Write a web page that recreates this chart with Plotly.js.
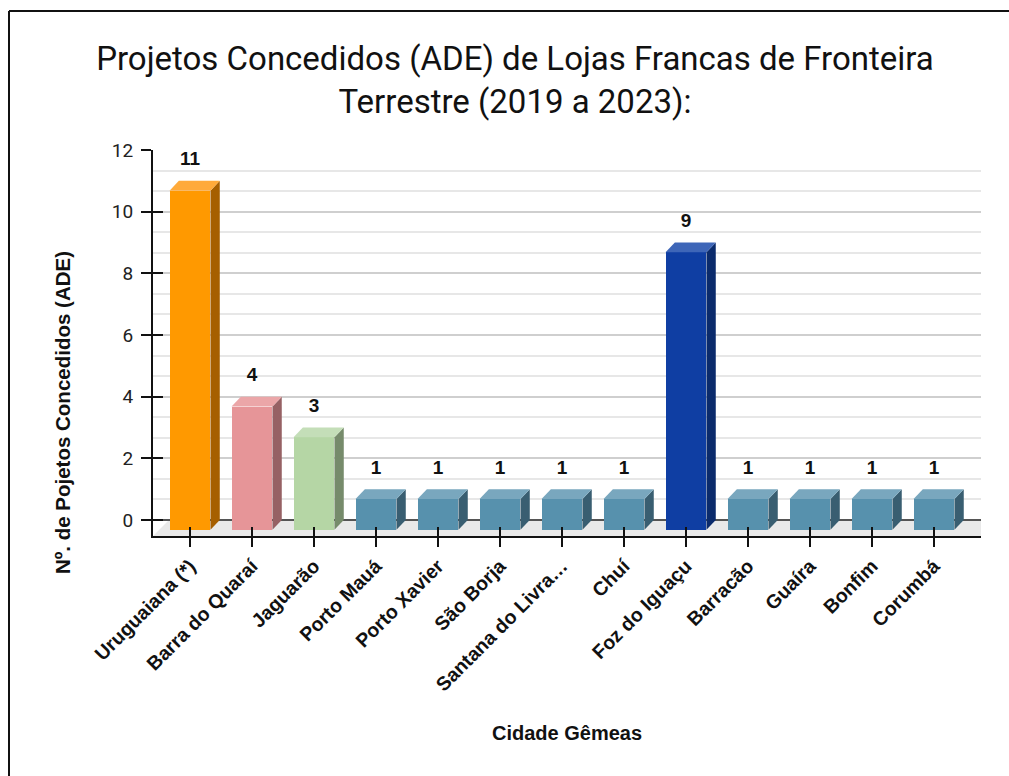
<!DOCTYPE html>
<html><head><meta charset="utf-8">
<script src="https://cdn.plot.ly/plotly-3.0.1.min.js"></script>
<style>html,body{margin:0;padding:0;background:#fff}#chart{width:1009px;height:776px}</style>
</head><body><div id="chart"></div>
<script>
// ---- data ----
const categories = ["Uruguaiana (*)", "Barra do Quaraí", "Jaguarão", "Porto Mauá", "Porto Xavier", "São Borja",
  "Santana do Livra…", "Chuí", "Foz do Iguaçu", "Barracão", "Guaíra", "Bonfim", "Corumbá"];
const projetos = [11, 4, 3, 1, 1, 1, 1, 1, 9, 1, 1, 1, 1];
const yTickVals = [0, 2, 4, 6, 8, 10, 12];
const chartTitle = "Projetos Concedidos (ADE) de Lojas Francas de Fronteira<br>Terrestre (2019 a 2023):";
const xTitle = "Cidade Gêmeas";
const yTitle = "Nº. de Pojetos Concedidos (ADE)";

// ---- styles ----
const colourKey = ["orange", "pink", "green", "teal", "teal", "teal", "teal", "teal", "blue", "teal", "teal", "teal", "teal"];
const palette = {
  orange: {front: "#FF9900", top: "#FFAA3A", side: "#A65F00"},
  pink:   {front: "#E69598", top: "#EBA6A8", side: "#966164"},
  green:  {front: "#B5D6A5", top: "#C4DEB8", side: "#768B6B"},
  teal:   {front: "#5791AD", top: "#79A7BE", side: "#395E71"},
  blue:   {front: "#0F3EA3", top: "#3E66B8", side: "#0B2B6C"}
};
const BW = 0.66;   // bar width (category units)
const DX = 0.15;   // depth offset x (category units)
const DY = 0.32;   // depth offset y (value units)
const FONT = "Liberation Sans, Arial, sans-serif";
const TITLEFONT = "Roboto, sans-serif";

const idx = categories.map((c, i) => i);
const traces = [];

// front faces
traces.push({
  type: "bar", x: idx, y: projetos, base: -DY, width: BW,
  marker: {color: colourKey.map(k => palette[k].front), line: {width: 0}},
  hoverinfo: "skip", showlegend: false
});

// side and top faces
projetos.forEach((v, i) => {
  const p = palette[colourKey[i]];
  const r = i + BW / 2, l = i - BW / 2;
  traces.push({
    type: "scatter", mode: "lines", fill: "toself", fillcolor: p.side, line: {width: 0},
    x: [r, r + DX, r + DX, r, r], y: [-DY, 0, v, v - DY, -DY],
    hoverinfo: "skip", showlegend: false
  });
  traces.push({
    type: "scatter", mode: "lines", fill: "toself", fillcolor: p.top, line: {width: 0},
    x: [l, l + DX, r + DX, r, l], y: [v - DY, v, v, v - DY, v - DY],
    hoverinfo: "skip", showlegend: false
  });
});

// value labels
traces.push({
  type: "scatter", mode: "text", x: idx, y: projetos.map(v => v + 0.66),
  text: projetos.map(String), textposition: "middle center",
  textfont: {family: FONT, size: 19, color: "#111", weight: "bold"},
  cliponaxis: false, hoverinfo: "skip", showlegend: false
});

// dummy trace for the overlay axes (inside tick marks)
traces.push({type: "scatter", mode: "markers", x: [null], y: [null], xaxis: "x2", yaxis: "y2",
  hoverinfo: "skip", showlegend: false});

const XR = [-0.597, 12.758], YR = [-0.52, 12];
const PW = 828, PH = 386, PL = 153, PB = 536;
const px = v => (v - PL) / PW, py = v => (PB - v) / PH;

const layout = {
  width: 1009, height: 776,
  margin: {l: PL, r: 1009 - 981, t: 150, b: 776 - PB},
  paper_bgcolor: "#fff", plot_bgcolor: "#fff",
  showlegend: false, bargap: 0,
  title: {
    text: chartTitle, xref: "container", yref: "container",
    x: 515 / 1009, xanchor: "center", y: 1 - 70 / 776, yanchor: "middle",
    font: {family: TITLEFONT, size: 33, color: "#111"}
  },
  xaxis: {
    range: XR, tickmode: "array", tickvals: idx, ticktext: categories, tickangle: -45,
    showgrid: false, zeroline: false, showline: true, linecolor: "#111", linewidth: 2,
    ticks: "outside", ticklen: 9, tickwidth: 2, tickcolor: "#111",
    tickfont: {family: FONT, size: 19.5, color: "#111", weight: "bold"}, fixedrange: true
  },
  yaxis: {
    range: YR, tickmode: "array", tickvals: yTickVals,
    showgrid: true, gridcolor: "#cfcfcf", gridwidth: 2,
    minor: {dtick: 2 / 3, tick0: 0, showgrid: true, gridcolor: "#e7e7e7", gridwidth: 2, ticks: ""},
    zeroline: true, zerolinecolor: "#555", zerolinewidth: 2,
    showline: true, linecolor: "#111", linewidth: 2,
    ticks: "outside", ticklen: 10, tickwidth: 2, tickcolor: "#111", ticklabelstandoff: 4,
    tickfont: {family: TITLEFONT, size: 19, color: "#222"}, fixedrange: true
  },
  xaxis2: {range: XR, overlaying: "x", anchor: "y2", tickmode: "array", tickvals: idx,
    showticklabels: false, showgrid: false, zeroline: false, showline: false,
    ticks: "inside", ticklen: 9, tickwidth: 2, tickcolor: "#111", fixedrange: true},
  yaxis2: {range: YR, overlaying: "y", anchor: "x2", side: "left", tickmode: "array", tickvals: yTickVals,
    showticklabels: false, showgrid: false, zeroline: false, showline: false,
    ticks: "inside", ticklen: 10, tickwidth: 2, tickcolor: "#111", fixedrange: true},
  shapes: [
    // mask grid between y-axis and back wall
    {type: "rect", xref: "paper", yref: "y", x0: 0, x1: 15 / PW, y0: -0.6, y1: 12.2,
      fillcolor: "#fff", line: {width: 0}, layer: "between"},
    // floor (under the bars)
    {type: "path", xref: "x", yref: "y", layer: "between",
      path: "M -0.597 -0.52 L -0.355 -0.03 L 12.9 -0.03 L 12.758 -0.52 Z",
      fillcolor: "#e9e9e9", line: {width: 0}},
    // outer frame
    {type: "line", xref: "paper", yref: "paper", x0: px(9), x1: px(9), y0: py(11), y1: py(780),
      line: {color: "#111", width: 2}},
    {type: "line", xref: "paper", yref: "paper", x0: px(9), x1: px(1012), y0: py(11), y1: py(11),
      line: {color: "#111", width: 2}}
  ],
  annotations: [
    {text: xTitle, xref: "paper", yref: "paper", x: 0.5, y: py(733), xanchor: "center", yanchor: "middle",
      showarrow: false, font: {family: FONT, size: 20, color: "#111", weight: "bold"}},
    {text: yTitle, xref: "paper", yref: "paper", x: px(62), y: py(413), xanchor: "center", yanchor: "middle",
      textangle: -90, showarrow: false, font: {family: FONT, size: 20.5, color: "#111", weight: "bold"}}
  ]
};

Plotly.newPlot("chart", traces, layout, {displayModeBar: false, staticPlot: true});
</script>
</body></html>
